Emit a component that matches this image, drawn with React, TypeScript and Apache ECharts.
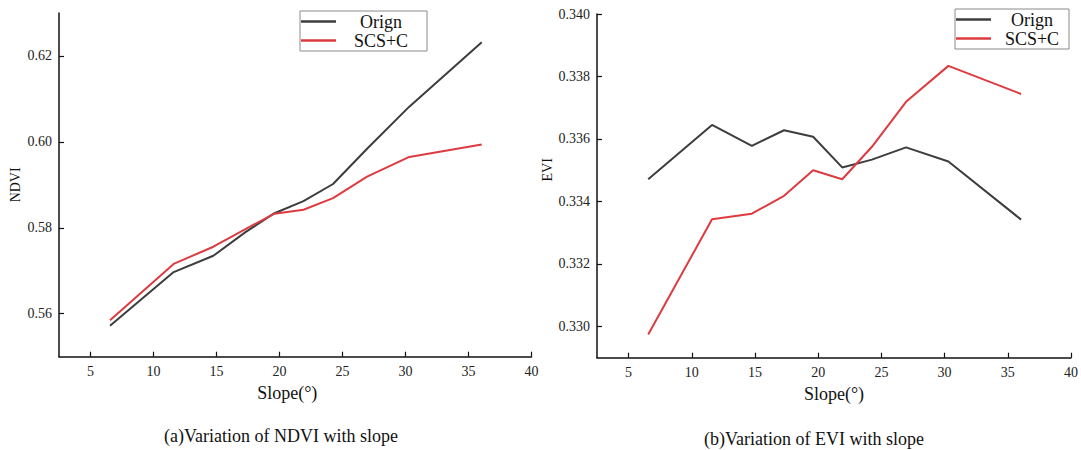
import React, { useEffect, useRef } from "react";
import * as echarts from "echarts";

const slope = [6.55, 11.6, 14.75, 17.3, 19.6, 21.9, 24.25, 26.95, 30.3, 36.05];
const ndviOrign = [0.5572, 0.5697, 0.5735, 0.579, 0.5834, 0.5862, 0.5902, 0.5984, 0.6082, 0.6232];
const ndviScsc = [0.5585, 0.5716, 0.5756, 0.5797, 0.5833, 0.5842, 0.5869, 0.5919, 0.5965, 0.5994];
const eviOrign = [0.33471, 0.33645, 0.33578, 0.33628, 0.33607, 0.33509, 0.33534, 0.33573, 0.33528, 0.33342];
const eviScsc = [0.32974, 0.33343, 0.33361, 0.33418, 0.335, 0.33471, 0.33575, 0.33719, 0.33834, 0.33744];
const xTicks = [5, 10, 15, 20, 25, 30, 35, 40];
const ndviTicks = [0.56, 0.58, 0.6, 0.62];
const eviTicks = [0.33, 0.332, 0.334, 0.336, 0.338, 0.34];
const seriesNames = ["Orign", "SCS+C"];

const FONT = "'Liberation Serif', 'Times New Roman', serif";
const BLACK = "#3d3d3d";
const RED = "#dd3b3f";

const pairs = (xs: number[], ys: number[]) => xs.map((x, i) => [x, ys[i]]);

export default function App() {
  const ref = useRef<HTMLDivElement>(null);
  useEffect(() => {
    if (!ref.current) return;
    const chart = echarts.init(ref.current, undefined, { renderer: "svg" });
    const axisLine = { show: true, lineStyle: { color: "#111", width: 1.5 } };
    const xAxisBase = (gridIndex: number, padRight: number) => ({
      type: "value",
      gridIndex,
      min: 2.5,
      max: 40,
      name: "Slope(°)",
      nameLocation: "middle",
      nameGap: 24,
      nameTextStyle: { fontFamily: FONT, fontSize: 18, color: "#111", padding: [0, padRight, 0, 0] },
      axisLine,
      axisTick: { show: true, inside: true, length: 5, customValues: xTicks, lineStyle: { color: "#111", width: 1.2 } },
      axisLabel: { customValues: xTicks, fontFamily: FONT, fontSize: 14, color: "#222", margin: 8 },
      splitLine: { show: false },
    });
    const yAxisBase = (gridIndex: number, name: string, min: number, max: number, ticks: number[], digits: number, gap: number, padLeft: number) => ({
      type: "value",
      gridIndex,
      min,
      max,
      name,
      nameLocation: "middle",
      nameGap: gap,
      nameTextStyle: { fontFamily: FONT, fontSize: 14, color: "#111", padding: [0, 0, 0, padLeft] },
      axisLine,
      axisTick: { show: true, inside: true, length: 5, customValues: ticks, lineStyle: { color: "#111", width: 1.2 } },
      axisLabel: {
        customValues: ticks,
        fontFamily: FONT,
        fontSize: 14,
        color: "#222",
        margin: 7,
        formatter: (v: number) => v.toFixed(digits),
      },
      splitLine: { show: false },
    });
    const lineSeries = (name: string, color: string, idx: number, xs: number[], ys: number[]) => ({
      type: "line",
      name,
      xAxisIndex: idx,
      yAxisIndex: idx,
      data: pairs(xs, ys),
      symbol: "none",
      lineStyle: { color, width: 2 },
      itemStyle: { color },
    });
    const legend = (left: number, top: number, textWidth: number, padRight: number) => ({
      data: seriesNames,
      orient: "vertical",
      left,
      top,
      icon: "rect",
      itemWidth: 35,
      itemHeight: 2.5,
      itemGap: 0,
      padding: [1, padRight, 1, 1],
      borderColor: "#8a8a8a",
      borderWidth: 1,
      selectedMode: false,
      formatter: "{c|{name}}",
      textStyle: {
        fontFamily: FONT,
        fontSize: 18,
        color: "#111",
        lineHeight: 19,
        rich: { c: { width: textWidth, align: "center", fontFamily: FONT, fontSize: 18, lineHeight: 19, color: "#111" } },
      },
    });
    chart.setOption({
      animation: false,
      backgroundColor: "#fff",
      grid: [
        { left: 59, top: 13, width: 472.5, height: 343.7 },
        { left: 597, top: 14, width: 474, height: 343.7 },
      ],
      xAxis: [xAxisBase(0, 16), xAxisBase(1, 0)],
      yAxis: [
        yAxisBase(0, "NDVI", 0.55, 0.63, ndviTicks, 2, 37, 0),
        yAxisBase(1, "EVI", 0.329, 0.34, eviTicks, 3, 35, 32),
      ],
      legend: [legend(300, 11, 80, 6), legend(955, 9, 72, 1)],
      series: [
        lineSeries(seriesNames[0], BLACK, 0, slope, ndviOrign),
        lineSeries(seriesNames[1], RED, 0, slope, ndviScsc),
        lineSeries(seriesNames[0], BLACK, 1, slope, eviOrign),
        lineSeries(seriesNames[1], RED, 1, slope, eviScsc),
      ],
      graphic: [
        {
          type: "text",
          x: 281,
          y: 436,
          style: { text: "(a)Variation of NDVI with slope", font: `18px ${FONT}`, fill: "#111", align: "center", verticalAlign: "middle" },
        },
        {
          type: "text",
          x: 814,
          y: 439,
          style: { text: "(b)Variation of EVI with slope", font: `18px ${FONT}`, fill: "#111", align: "center", verticalAlign: "middle" },
        },
      ],
    });
    return () => chart.dispose();
  }, []);
  return <div ref={ref} style={{ position: "fixed", left: 0, top: 0, width: 1081, height: 450 }} />;
}
